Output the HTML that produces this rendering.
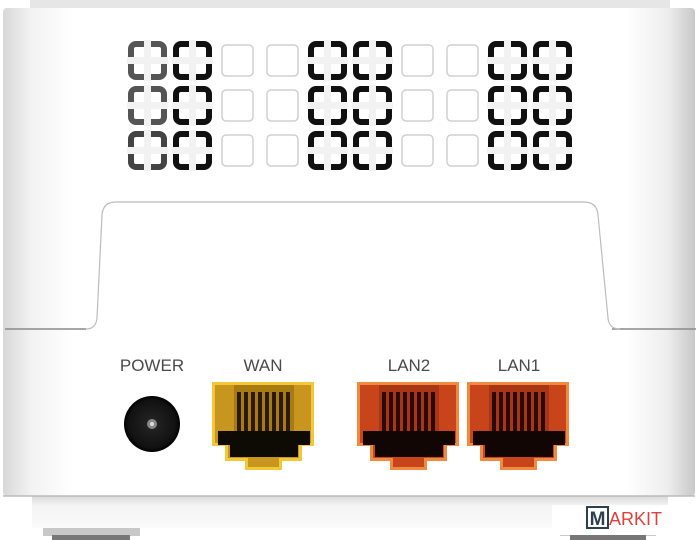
<!DOCTYPE html>
<html><head><meta charset="utf-8"><style>
html,body{margin:0;padding:0;background:#fff;}
svg{display:block;}
text{font-family:"Liberation Sans",sans-serif;}
</style></head><body>
<svg width="700" height="540" viewBox="0 0 700 540" xmlns="http://www.w3.org/2000/svg">
<defs>
<linearGradient id="lg" x1="0" x2="1" y1="0" y2="0">
<stop offset="0" stop-color="#d8d8d8"/><stop offset="0.04" stop-color="#f2f2f2"/><stop offset="0.1" stop-color="#fff"/><stop offset="0.9" stop-color="#fff"/><stop offset="0.96" stop-color="#eeeeee"/><stop offset="1" stop-color="#c8c8c8"/>
</linearGradient>
<linearGradient id="base" x1="0" x2="0" y1="0" y2="1">
<stop offset="0" stop-color="#d9d9d9"/><stop offset="0.3" stop-color="#f4f4f4"/><stop offset="1" stop-color="#fafafa"/>
</linearGradient>
<radialGradient id="jack" cx="0.5" cy="0.5" r="0.5">
<stop offset="0" stop-color="#777"/><stop offset="0.15" stop-color="#222"/><stop offset="0.85" stop-color="#111"/><stop offset="1" stop-color="#000"/>
</radialGradient>
<g id="bd">
<rect x="0" y="0" width="33" height="33" rx="5" fill="none" stroke="currentColor" stroke-width="6"/>
<rect x="-4" y="13" width="41" height="7" fill="#f2f2f2"/>
<rect x="13" y="-4" width="7" height="41" fill="#f2f2f2"/>
</g>
<g id="lt">
<rect x="1" y="1" width="31" height="31" rx="4" fill="#fff" stroke="#d0d0d0" stroke-width="1.5"/>
</g>
</defs>
<rect x="30" y="0" width="640" height="9" fill="#e6e6e6"/>
<rect x="3" y="8" width="692" height="488" rx="4" fill="url(#lg)"/>
<line x1="5" y1="329" x2="86" y2="329" stroke="#8a8a8a" stroke-width="1.5"/>
<line x1="612" y1="329" x2="696" y2="329" stroke="#8a8a8a" stroke-width="1.5"/>
<path d="M86 329 Q96 329 97 318 L102 215 Q103 202 116 202 L584 202 Q597 202 598 215 L608 318 Q609 329 620 329" fill="none" stroke="#bcbcbc" stroke-width="1.2"/>
<g>
<use href="#bd" x="131" y="44" color="#555"/><use href="#bd" x="176" y="44" color="#111"/>
<use href="#lt" x="221" y="44"/><use href="#lt" x="266" y="44"/>
<use href="#bd" x="311" y="44" color="#111"/><use href="#bd" x="356" y="44" color="#111"/>
<use href="#lt" x="401" y="44"/><use href="#lt" x="446" y="44"/>
<use href="#bd" x="491" y="44" color="#111"/><use href="#bd" x="536" y="44" color="#111"/>

<use href="#bd" x="131" y="89" color="#555"/><use href="#bd" x="176" y="89" color="#111"/>
<use href="#lt" x="221" y="89"/><use href="#lt" x="266" y="89"/>
<use href="#bd" x="311" y="89" color="#111"/><use href="#bd" x="356" y="89" color="#111"/>
<use href="#lt" x="401" y="89"/><use href="#lt" x="446" y="89"/>
<use href="#bd" x="491" y="89" color="#111"/><use href="#bd" x="536" y="89" color="#111"/>

<use href="#bd" x="131" y="134" color="#444"/><use href="#bd" x="176" y="134" color="#111"/>
<use href="#lt" x="221" y="134"/><use href="#lt" x="266" y="134"/>
<use href="#bd" x="311" y="134" color="#111"/><use href="#bd" x="356" y="134" color="#111"/>
<use href="#lt" x="401" y="134"/><use href="#lt" x="446" y="134"/>
<use href="#bd" x="491" y="134" color="#111"/><use href="#bd" x="536" y="134" color="#111"/>
</g>
<g font-size="17" fill="#4a4a4a" text-anchor="middle">
<text x="152" y="371">POWER</text>
<text x="263" y="371">WAN</text>
<text x="409" y="371">LAN2</text>
<text x="519" y="371">LAN1</text>
</g>
<circle cx="152" cy="424" r="28" fill="url(#jack)"/>
<circle cx="152" cy="424" r="5" fill="#888"/>
<circle cx="152" cy="424" r="2" fill="#ddd"/>
<g transform="translate(212,382)">
<path d="M0 0 H102 V64 H90 V79 H70 V88 H33 V79 H13 V64 H0 Z" fill="#f2c838"/>
<path d="M3 3 H99 V61 H87 V76 H67 V85 H36 V76 H16 V61 H3 Z" fill="#c8961e"/>
<rect x="22" y="3" width="60" height="46" fill="#a87a12"/>
<g fill="#2a1a05">
<rect x="25" y="10" width="4" height="40"/><rect x="32" y="10" width="4" height="40"/><rect x="39" y="10" width="4" height="40"/><rect x="46" y="10" width="4" height="40"/><rect x="53" y="10" width="4" height="40"/><rect x="60" y="10" width="4" height="40"/><rect x="67" y="10" width="4" height="40"/><rect x="74" y="10" width="4" height="40"/>
</g>
<rect x="6" y="49" width="92" height="14" fill="#0e0a04"/>
<rect x="18" y="60" width="68" height="15" fill="#0e0a04"/>
</g>
<g transform="translate(357,382)">
<path d="M0 0 H102 V64 H90 V79 H70 V88 H33 V79 H13 V64 H0 Z" fill="#f08a40"/>
<path d="M3 3 H99 V61 H87 V76 H67 V85 H36 V76 H16 V61 H3 Z" fill="#c8441a"/>
<rect x="22" y="3" width="60" height="46" fill="#a83614"/>
<g fill="#2a0a04">
<rect x="25" y="10" width="4" height="40"/><rect x="32" y="10" width="4" height="40"/><rect x="39" y="10" width="4" height="40"/><rect x="46" y="10" width="4" height="40"/><rect x="53" y="10" width="4" height="40"/><rect x="60" y="10" width="4" height="40"/><rect x="67" y="10" width="4" height="40"/><rect x="74" y="10" width="4" height="40"/>
</g>
<rect x="6" y="49" width="92" height="14" fill="#120604"/>
<rect x="18" y="60" width="68" height="15" fill="#120604"/>
</g>
<g transform="translate(467,382)">
<path d="M0 0 H102 V64 H90 V79 H70 V88 H33 V79 H13 V64 H0 Z" fill="#f08a40"/>
<path d="M3 3 H99 V61 H87 V76 H67 V85 H36 V76 H16 V61 H3 Z" fill="#c8441a"/>
<rect x="22" y="3" width="60" height="46" fill="#a83614"/>
<g fill="#2a0a04">
<rect x="25" y="10" width="4" height="40"/><rect x="32" y="10" width="4" height="40"/><rect x="39" y="10" width="4" height="40"/><rect x="46" y="10" width="4" height="40"/><rect x="53" y="10" width="4" height="40"/><rect x="60" y="10" width="4" height="40"/><rect x="67" y="10" width="4" height="40"/><rect x="74" y="10" width="4" height="40"/>
</g>
<rect x="6" y="49" width="92" height="14" fill="#120604"/>
<rect x="18" y="60" width="68" height="15" fill="#120604"/>
</g>
<rect x="32" y="496" width="636" height="32" fill="url(#base)"/>
<line x1="3" y1="496" x2="695" y2="496" stroke="#bbb" stroke-width="1.5"/>
<rect x="43" y="528" width="97" height="8" fill="#c8c8c8"/>
<rect x="52" y="535" width="78" height="5" fill="#777"/>
<rect x="560" y="528" width="96" height="8" fill="#c8c8c8"/>
<rect x="570" y="535" width="76" height="5" fill="#777"/>
<rect x="552" y="505" width="148" height="30" fill="#fff"/>
<rect x="587" y="507" width="21" height="21" fill="none" stroke="#2d3e50" stroke-width="2"/>
<text x="597.5" y="525" font-size="19" font-weight="bold" fill="#2d3e50" text-anchor="middle">M</text>
<text x="609" y="525" font-size="18" fill="#e0403a">ARKIT</text>
</svg>
</body></html>
